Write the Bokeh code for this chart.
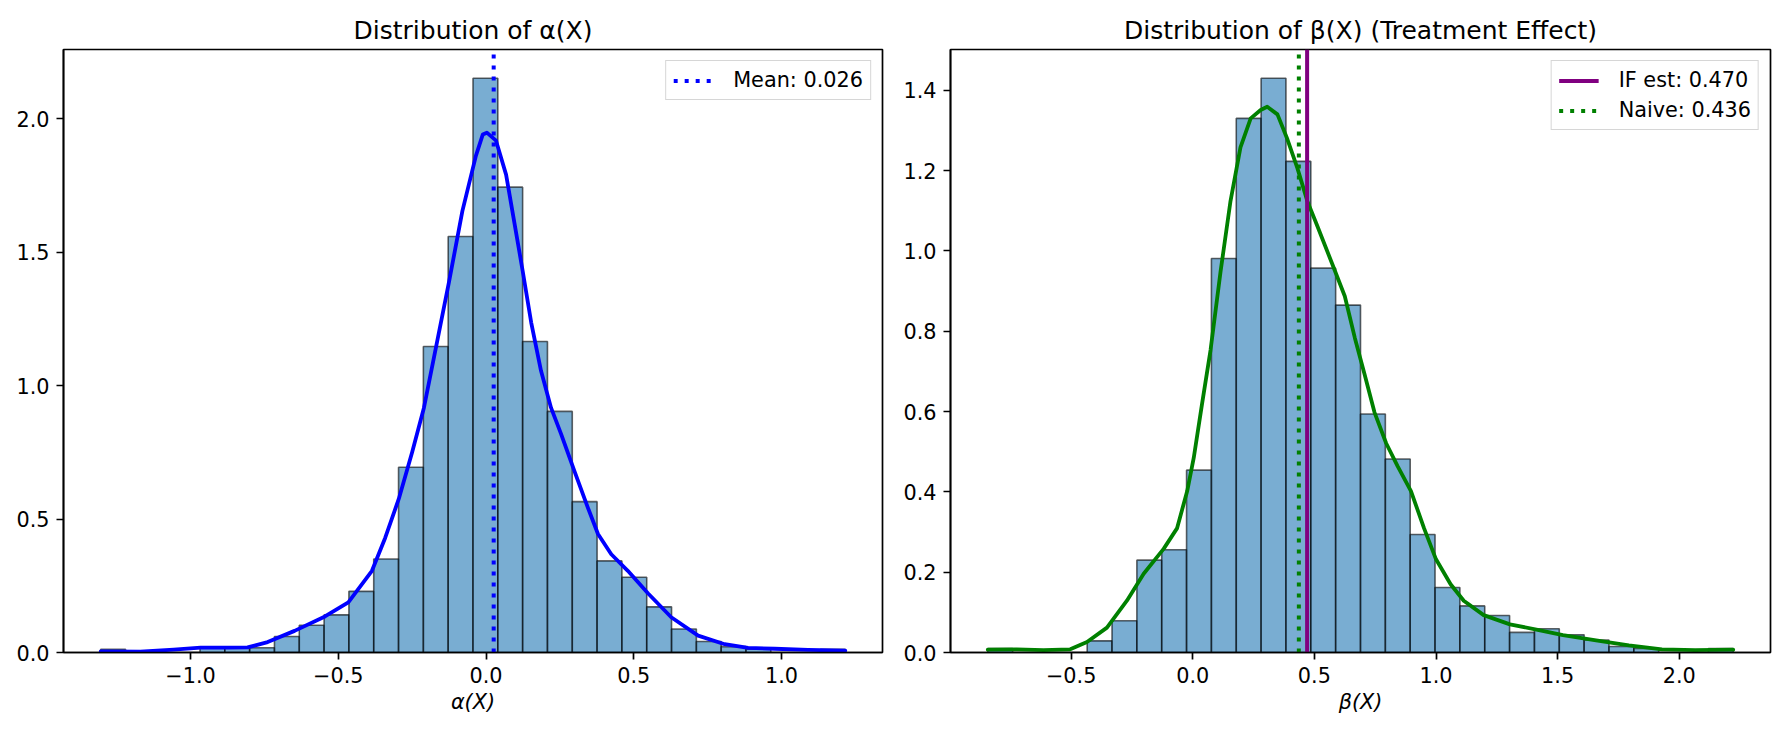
import numpy as np
from bokeh.plotting import figure
from bokeh.layouts import row
from bokeh.models import Range1d, FixedTicker
from bokeh.embed import file_html
from bokeh.resources import INLINE

# ---------------- data ----------------
alpha_range = (-1.304, 1.216)          # histogram data range, 30 bins
alpha_density = [0.012, 0.0, 0.0, 0.0, 0.021, 0.021, 0.018, 0.060, 0.102, 0.141,
                 0.229, 0.350, 0.694, 1.146, 1.558, 2.151, 1.743, 1.165, 0.903, 0.565,
                 0.343, 0.282, 0.171, 0.088, 0.041, 0.022, 0.012, 0.0, 0.0, 0.012]
alpha_kde_x = [-1.304, -1.17, -1.057, -0.966, -0.875, -0.807, -0.739, -0.648, -0.545, -0.466,
               -0.386, -0.341, -0.295, -0.250, -0.210, -0.170, -0.125, -0.080, -0.034, -0.011,
               0.003, 0.034, 0.068, 0.096, 0.124, 0.153, 0.186, 0.220, 0.254, 0.299,
               0.345, 0.379, 0.424, 0.480, 0.548, 0.627, 0.718, 0.808, 0.887, 0.977,
               1.090, 1.216]
alpha_kde_y = [0.004, 0.003, 0.011, 0.018, 0.018, 0.019, 0.039, 0.081, 0.135, 0.188,
               0.306, 0.430, 0.576, 0.750, 0.917, 1.139, 1.389, 1.653, 1.861, 1.940,
               1.947, 1.917, 1.790, 1.610, 1.430, 1.236, 1.056, 0.917, 0.819, 0.680,
               0.542, 0.444, 0.368, 0.306, 0.222, 0.132, 0.063, 0.031, 0.017, 0.014,
               0.010, 0.007]
alpha_mean = 0.026

beta_range = (-0.843, 2.222)
beta_density = [0.0098, 0.0, 0.0, 0.0, 0.029, 0.079, 0.230, 0.256, 0.454, 0.981,
                1.330, 1.430, 1.223, 0.957, 0.865, 0.594, 0.482, 0.294, 0.162, 0.116,
                0.092, 0.050, 0.059, 0.044, 0.031, 0.015, 0.0098, 0.0, 0.0, 0.0098]
beta_kde_x = [-0.843, -0.724, -0.614, -0.504, -0.435, -0.353, -0.271, -0.202, -0.120, -0.065,
              -0.023, 0.004, 0.038, 0.073, 0.114, 0.155, 0.196, 0.238, 0.279, 0.306,
              0.348, 0.389, 0.430, 0.471, 0.512, 0.575, 0.625, 0.666, 0.707, 0.747,
              0.795, 0.842, 0.897, 0.951, 1.000, 1.060, 1.114, 1.196, 1.304, 1.413,
              1.522, 1.658, 1.793, 1.929, 2.065, 2.222]
beta_kde_y = [0.007, 0.008, 0.006, 0.008, 0.026, 0.062, 0.129, 0.196, 0.258, 0.309,
              0.402, 0.485, 0.619, 0.753, 0.948, 1.124, 1.258, 1.330, 1.351, 1.359,
              1.340, 1.278, 1.206, 1.124, 1.062, 0.965, 0.887, 0.784, 0.691, 0.598,
              0.521, 0.464, 0.402, 0.309, 0.232, 0.170, 0.129, 0.093, 0.070, 0.057,
              0.043, 0.030, 0.0175, 0.008, 0.006, 0.007]
beta_if = 0.470
beta_naive = 0.436

alpha_xticks = [-1.0, -0.5, 0.0, 0.5, 1.0]
alpha_xlabels = ["\u22121.0", "\u22120.5", "0.0", "0.5", "1.0"]
alpha_yticks = [0.0, 0.5, 1.0, 1.5, 2.0]
alpha_ylabels = ["0.0", "0.5", "1.0", "1.5", "2.0"]
beta_xticks = [-0.5, 0.0, 0.5, 1.0, 1.5, 2.0]
beta_xlabels = ["\u22120.5", "0.0", "0.5", "1.0", "1.5", "2.0"]
beta_yticks = [0.0, 0.2, 0.4, 0.6, 0.8, 1.0, 1.2, 1.4]
beta_ylabels = ["0.0", "0.2", "0.4", "0.6", "0.8", "1.0", "1.2", "1.4"]

FONT = "DejaVu Sans"
H = 734


def make_panel(title, xlabel, rng, dens, kx, ky, kcolor, xticks, xlabels, yticks, ylabels,
               width, bl, br):
    n = len(dens)
    edges = np.linspace(rng[0], rng[1], n + 1)
    R = rng[1] - rng[0]
    ytop = max(dens) * 1.05
    p = figure(width=width, height=H,
               x_range=Range1d(rng[0] - 0.05 * R, rng[1] + 0.05 * R),
               y_range=Range1d(0, ytop),
               output_backend="svg", toolbar_location=None,
               min_border_left=bl, min_border_right=br,
               min_border_top=49, min_border_bottom=82)
    p.background_fill_color = "white"
    p.border_fill_color = "white"
    p.grid.visible = False
    p.outline_line_color = "black"
    p.outline_line_width = 1.7
    p.outline_line_alpha = 1.0

    p.quad(left=edges[:-1], right=edges[1:], bottom=0, top=dens,
           fill_color="#1f77b4", fill_alpha=0.6,
           line_color="black", line_alpha=0.6, line_width=1.6)
    p.line(kx, ky, line_color=kcolor, line_width=3.8, line_join="round", line_cap="round")

    p.title.text = title
    p.title.text_font = FONT
    p.title.text_font_size = "25px"
    p.title.text_font_style = "normal"
    p.title.text_color = "black"
    p.title.align = "center"

    for ax, ticks, labels in ((p.xaxis[0], xticks, xlabels), (p.yaxis[0], yticks, ylabels)):
        ax.ticker = FixedTicker(ticks=ticks)
        ax.major_label_overrides = dict(zip(ticks, labels))
        ax.major_label_text_font = FONT
        ax.major_label_text_font_size = "20.8px"
        ax.major_label_text_color = "black"
        ax.major_tick_out = 7
        ax.major_tick_in = 0
        ax.major_tick_line_width = 1.7
        ax.major_tick_line_color = "black"
        ax.minor_tick_line_color = None
        ax.axis_line_width = 1.7
        ax.axis_line_color = "black"
        ax.major_label_standoff = 7

    p.xaxis.axis_label = xlabel
    p.xaxis.axis_label_text_font = FONT
    p.xaxis.axis_label_text_font_size = "20.8px"
    p.xaxis.axis_label_text_font_style = "italic"
    p.xaxis.axis_label_text_color = "black"
    p.xaxis.axis_label_standoff = 4
    return p, ytop


def style_legend(p):
    lg = p.legend[0]
    lg.location = "top_right"
    lg.margin = 11
    lg.padding = 7
    lg.spacing = 6
    lg.glyph_width = 40
    lg.glyph_height = 23
    lg.label_height = 23
    lg.label_standoff = 20
    lg.label_text_font = FONT
    lg.label_text_font_size = "20.8px"
    lg.label_text_color = "black"
    lg.border_line_color = "#cccccc"
    lg.border_line_width = 1.5
    lg.border_line_alpha = 0.8
    lg.background_fill_alpha = 0.8


# ---------------- left panel ----------------
p1, y1top = make_panel("Distribution of \u03b1(X)", "\u03b1(X)", alpha_range, alpha_density,
                       alpha_kde_x, alpha_kde_y, "blue", alpha_xticks, alpha_xlabels,
                       alpha_yticks, alpha_ylabels, width=900, bl=63, br=18)
p1.line([alpha_mean, alpha_mean], [0, y1top], line_color="blue", line_width=4,
        line_dash="4 7", legend_label="Mean: %.3f" % alpha_mean)
style_legend(p1)

# ---------------- right panel ----------------
p2, y2top = make_panel("Distribution of \u03b2(X) (Treatment Effect)", "\u03b2(X)", beta_range,
                       beta_density, beta_kde_x, beta_kde_y, "green", beta_xticks,
                       beta_xlabels, beta_yticks, beta_ylabels, width=884, bl=50, br=14)
p2.line([beta_if, beta_if], [0, y2top], line_color="purple", line_width=4,
        legend_label="IF est: %.3f" % beta_if)
p2.line([beta_naive, beta_naive], [0, y2top], line_color="green", line_width=4,
        line_dash="4 7", legend_label="Naive: %.3f" % beta_naive)
style_legend(p2)

layout = row(p1, p2)
open("out.html", "w").write(file_html(layout, INLINE))
